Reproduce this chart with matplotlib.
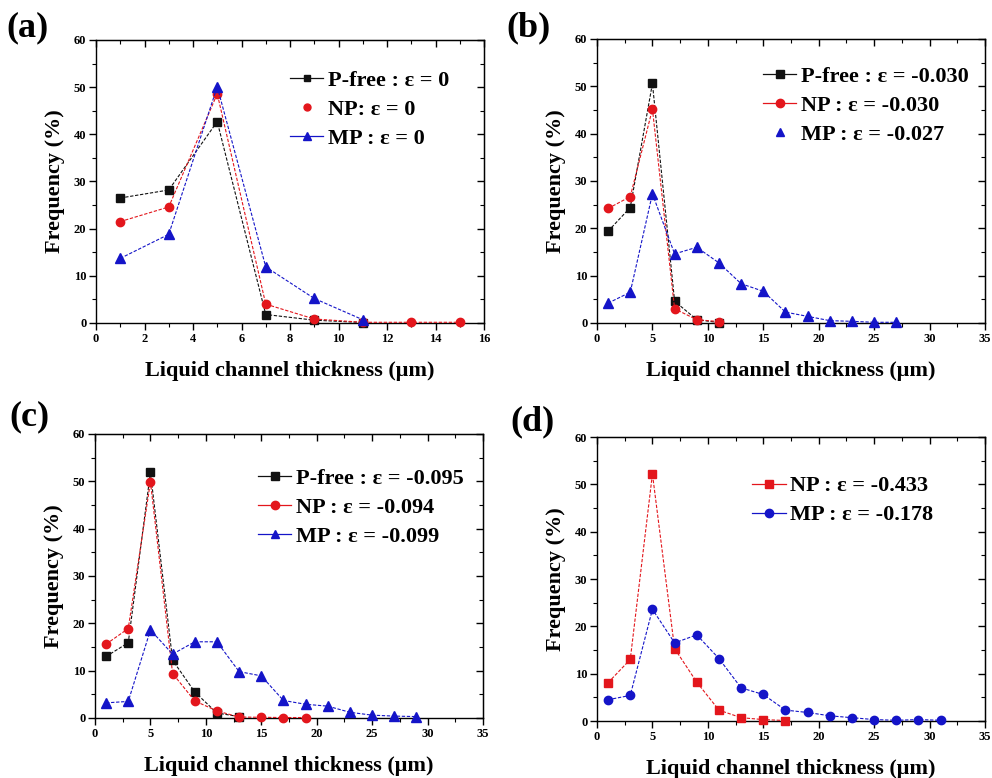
import numpy as np
import matplotlib
matplotlib.use("Agg")
import matplotlib.pyplot as plt
from matplotlib.lines import Line2D
from matplotlib.ticker import MultipleLocator

plt.rcParams["font.family"] = ["Liberation Serif", "DejaVu Serif"]
plt.rcParams["font.weight"] = "bold"

# ---- data ----
x_a = [1, 3, 5, 7, 9, 11, 13, 15]
a_pfree = [26.5, 28.2, 42.7, 1.8, 0.6, 0.1]
a_np = [21.5, 24.6, 48.6, 4.0, 0.85, 0.15, 0.15, 0.15]
a_mp = [13.7, 18.8, 50.1, 11.9, 5.2, 0.7]

x_b = [1, 3, 5, 7, 9, 11, 13, 15, 17, 19, 21, 23, 25, 27]
b_pfree = [19.4, 24.4, 50.6, 4.6, 0.7, 0.1]
b_np = [24.2, 26.7, 45.2, 3.0, 0.7, 0.3]
b_mp = [4.2, 6.5, 27.3, 14.6, 16.0, 12.7, 8.3, 6.7, 2.3, 1.4, 0.5, 0.35, 0.15, 0.15]

x_c = [1, 3, 5, 7, 9, 11, 13, 15, 17, 19, 21, 23, 25, 27, 29]
c_pfree = [13.0, 15.9, 51.9, 12.2, 5.5, 1.05, 0.3]
c_np = [15.6, 18.9, 49.9, 9.4, 3.6, 1.5, 0.2, 0.15, 0.1, 0.1]
c_mp = [3.2, 3.5, 18.6, 13.5, 16.1, 16.1, 9.8, 8.9, 3.7, 2.9, 2.5, 1.2, 0.6, 0.4, 0.3]

x_d = [1, 3, 5, 7, 9, 11, 13, 15, 17, 19, 21, 23, 25, 27, 29, 31]
d_np = [8.1, 13.0, 52.2, 15.3, 8.2, 2.3, 0.7, 0.3, 0.1]
d_mp = [4.5, 5.4, 23.6, 16.5, 18.2, 13.2, 7.0, 5.6, 2.3, 1.8, 1.1, 0.7, 0.3, 0.15, 0.3, 0.15]

labels_a = ["P-free : ε = 0", "NP: ε = 0", "MP : ε = 0"]
labels_b = ["P-free : ε = -0.030", "NP : ε = -0.030", "MP : ε = -0.027"]
labels_c = ["P-free : ε = -0.095", "NP : ε = -0.094", "MP : ε = -0.099"]
labels_d = ["NP : ε = -0.433", "MP : ε = -0.178"]

BLACK = "#111111"
RED = "#e3161c"
BLUE = "#1414c8"


def style_axes(ax, xmax, xmajor, xminor):
    ax.set_xlim(0, xmax)
    ax.set_ylim(0, 60)
    ax.xaxis.set_major_locator(MultipleLocator(xmajor))
    ax.xaxis.set_minor_locator(MultipleLocator(xminor))
    ax.yaxis.set_major_locator(MultipleLocator(10))
    ax.yaxis.set_minor_locator(MultipleLocator(5))
    ax.tick_params(which="major", direction="out", length=5, width=1.0,
                   labelsize=9, pad=2)
    ax.tick_params(which="minor", direction="out", length=3, width=0.8)
    for lab in ax.get_xticklabels() + ax.get_yticklabels():
        lab.set_fontweight("bold")
    # mirrored ticks on top / right pointing inward
    top = ax.secondary_xaxis("top")
    top.xaxis.set_major_locator(MultipleLocator(xmajor))
    top.xaxis.set_minor_locator(MultipleLocator(xminor))
    top.tick_params(which="major", direction="in", length=5, width=1.0, labeltop=False)
    top.tick_params(which="minor", direction="in", length=3, width=0.8)
    right = ax.secondary_yaxis("right")
    right.yaxis.set_major_locator(MultipleLocator(10))
    right.yaxis.set_minor_locator(MultipleLocator(5))
    right.tick_params(which="major", direction="in", length=5, width=1.0, labelright=False)
    right.tick_params(which="minor", direction="in", length=3, width=0.8)
    for sp in ax.spines.values():
        sp.set_linewidth(1.0)
    ax.set_xlabel("Liquid channel thickness (μm)", fontsize=16, fontweight="bold", labelpad=12)
    ax.set_ylabel("Frequency (%)", fontsize=16, fontweight="bold", labelpad=6)


def draw(ax, x, y, color, marker, ms=6):
    ax.plot(x[:len(y)], y, color=color, marker=marker, markersize=ms,
            linewidth=0.8, linestyle=(0, (3, 1.5)), markeredgecolor=color,
            clip_on=False, zorder=3)


def handles_for(entries):
    handles = []
    for color, marker, with_line, ms in entries:
        handles.append(Line2D([], [], color=color, marker=marker, markersize=ms,
                              linewidth=0.9 if with_line else 0,
                              linestyle="-" if with_line else "none"))
    return handles


def add_legend(ax, handles, labels, anchor):
    ax.legend(handles, labels, loc="upper left", bbox_to_anchor=anchor, frameon=False,
              prop={"size": 16, "weight": "bold"}, handlelength=1.5, handletextpad=0.2,
              labelspacing=0.38, borderpad=0, borderaxespad=0)


fig = plt.figure(figsize=(9.92, 7.78), dpi=100)
W, H = 992, 778


def add_axes(l, t, r, b):
    return fig.add_axes([l / W, 1 - b / H, (r - l) / W, (b - t) / H])


ax_a = add_axes(96, 40, 484, 323)
ax_b = add_axes(597, 39, 985, 323)
ax_c = add_axes(95, 434, 483, 718)
ax_d = add_axes(597, 437, 985, 721)

# (a)
draw(ax_a, x_a, a_pfree, BLACK, "s", 5.5)
draw(ax_a, x_a, a_np, RED, "o", 6)
draw(ax_a, x_a, a_mp, BLUE, "^", 6.5)
style_axes(ax_a, 16, 2, 1)
h = handles_for([(BLACK, "s", True, 5), (RED, "o", False, 5), (BLUE, "^", True, 5.5)])
add_legend(ax_a, h, labels_a, (0.5, 0.893))

# (b)
draw(ax_b, x_b, b_pfree, BLACK, "s", 5.5)
draw(ax_b, x_b, b_np, RED, "o", 6)
draw(ax_b, x_b, b_mp, BLUE, "^", 6.5)
style_axes(ax_b, 35, 5, 2.5)
h = handles_for([(BLACK, "s", True, 5.5), (RED, "o", True, 6), (BLUE, "^", False, 6)])
add_legend(ax_b, h, labels_b, (0.428, 0.903))

# (c)
draw(ax_c, x_c, c_pfree, BLACK, "s", 5.5)
draw(ax_c, x_c, c_np, RED, "o", 6)
draw(ax_c, x_c, c_mp, BLUE, "^", 6.5)
style_axes(ax_c, 35, 5, 2.5)
h = handles_for([(BLACK, "s", True, 5.5), (RED, "o", True, 6), (BLUE, "^", True, 6)])
add_legend(ax_c, h, labels_c, (0.42, 0.88))

# (d)
draw(ax_d, x_d, d_np, RED, "s", 5.5)
draw(ax_d, x_d, d_mp, BLUE, "o", 6)
style_axes(ax_d, 35, 5, 2.5)
h = handles_for([(RED, "s", True, 5.5), (BLUE, "o", True, 6)])
add_legend(ax_d, h, labels_d, (0.4, 0.863))

for lab, (px, py) in zip(["(a)", "(b)", "(c)", "(d)"],
                         [(27, 28), (529, 28), (29, 417), (533, 422)]):
    fig.text(px / W, 1 - py / H, lab, fontsize=26, fontweight="bold",
             ha="center", va="center")

fig.savefig("out.png", dpi=100)
